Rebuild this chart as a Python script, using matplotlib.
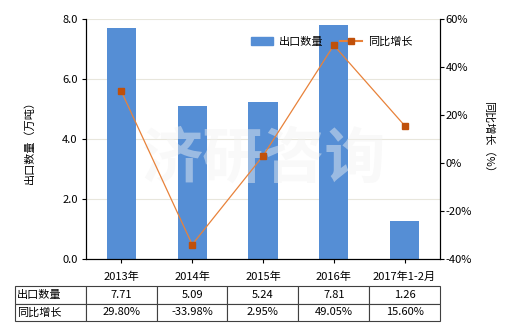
import matplotlib
matplotlib.use("Agg")
import matplotlib.pyplot as plt
from matplotlib.lines import Line2D
from matplotlib.patches import Patch

plt.rcParams['font.family'] = ['Noto Sans CJK SC', 'DejaVu Sans']
plt.rcParams['font.size'] = 8

categories = ["2013年", "2014年", "2015年", "2016年", "2017年1-2月"]
export_qty = [7.71, 5.09, 5.24, 7.81, 1.26]          # 万吨
yoy_growth = [29.80, -33.98, 2.95, 49.05, 15.60]     # %
qty_labels = ["7.71", "5.09", "5.24", "7.81", "1.26"]
yoy_labels = ["29.80%", "-33.98%", "2.95%", "49.05%", "15.60%"]

BAR_COLOR = "#558ED5"
LINE_COLOR = "#E8823A"
MARK_COLOR = "#C0500A"

fig = plt.figure(figsize=(5.2, 3.3), dpi=100)
ax = fig.add_axes([86 / 520, 1 - 259 / 330, 354 / 520, 240 / 330])
x = list(range(len(categories)))

ax.bar(x, export_qty, width=0.41, color=BAR_COLOR, zorder=2)
ax.set_xlim(-0.5, 4.5)
ax.set_ylim(0, 8)
ax.set_yticks([0, 2, 4, 6, 8])
ax.set_yticklabels([f"{v:.1f}" for v in [0, 2, 4, 6, 8]])
ax.set_xticks(x)
ax.set_xticklabels(categories)
ax.grid(axis="y", color="#e8e6dc", linewidth=0.8, zorder=0)
ax.set_ylabel("出口数量（万吨）", labelpad=20)
ax.tick_params(axis="both", length=3, width=0.8, pad=3)
ax.tick_params(axis="x", pad=6)
ax.spines["top"].set_visible(False)

ax2 = ax.twinx()
ax2.plot(x, yoy_growth, color=LINE_COLOR, linewidth=0.9, zorder=3)
ax2.plot(x, yoy_growth, linestyle="none", marker="s", markersize=5,
         color=MARK_COLOR, zorder=4)
ax2.set_ylim(-40, 60)
ax2.set_yticks([-40, -20, 0, 20, 40, 60])
ax2.set_yticklabels([f"{v}%" for v in [-40, -20, 0, 20, 40, 60]])
ax2.set_ylabel("同比增长（%）", rotation=270, labelpad=16)
ax2.tick_params(axis="y", length=3, width=0.8, pad=1)
ax2.spines["top"].set_visible(False)

# watermark
ax.text(2.0, 3.3, "济研咨询", fontsize=44, color="#f2f2f2", alpha=0.45,
        ha="center", va="center", zorder=2.5, fontweight="bold")

handles = [Patch(color=BAR_COLOR, label="出口数量"),
           Line2D([0], [0], color=LINE_COLOR, marker="s", markersize=4,
                  markerfacecolor=MARK_COLOR, markeredgecolor=MARK_COLOR,
                  linewidth=1.5, label="同比增长")]
ax2.legend(handles=handles, loc="upper right", bbox_to_anchor=(0.95, 0.97),
           ncol=2, frameon=False, handlelength=2.0, columnspacing=1.5,
           handletextpad=0.5, fontsize=8)

# data table under the chart
cell_text = [["出口数量"] + qty_labels, ["同比增长"] + yoy_labels]
tbl = ax.table(cellText=cell_text, colWidths=[71] + [71] * 5,
               bbox=[-71 / 354, -62 / 240, 425 / 354, 35 / 240],
               cellLoc="center")
tbl.auto_set_font_size(False)
for (r, c), cell in tbl.get_celld().items():
    cell.set_fontsize(8)
    cell.set_edgecolor("#404040")
    cell.set_linewidth(0.8)
    if c == 0:
        cell.get_text().set_ha("left")
        cell.PAD = 0.03

fig.savefig("out.png", dpi=100)
